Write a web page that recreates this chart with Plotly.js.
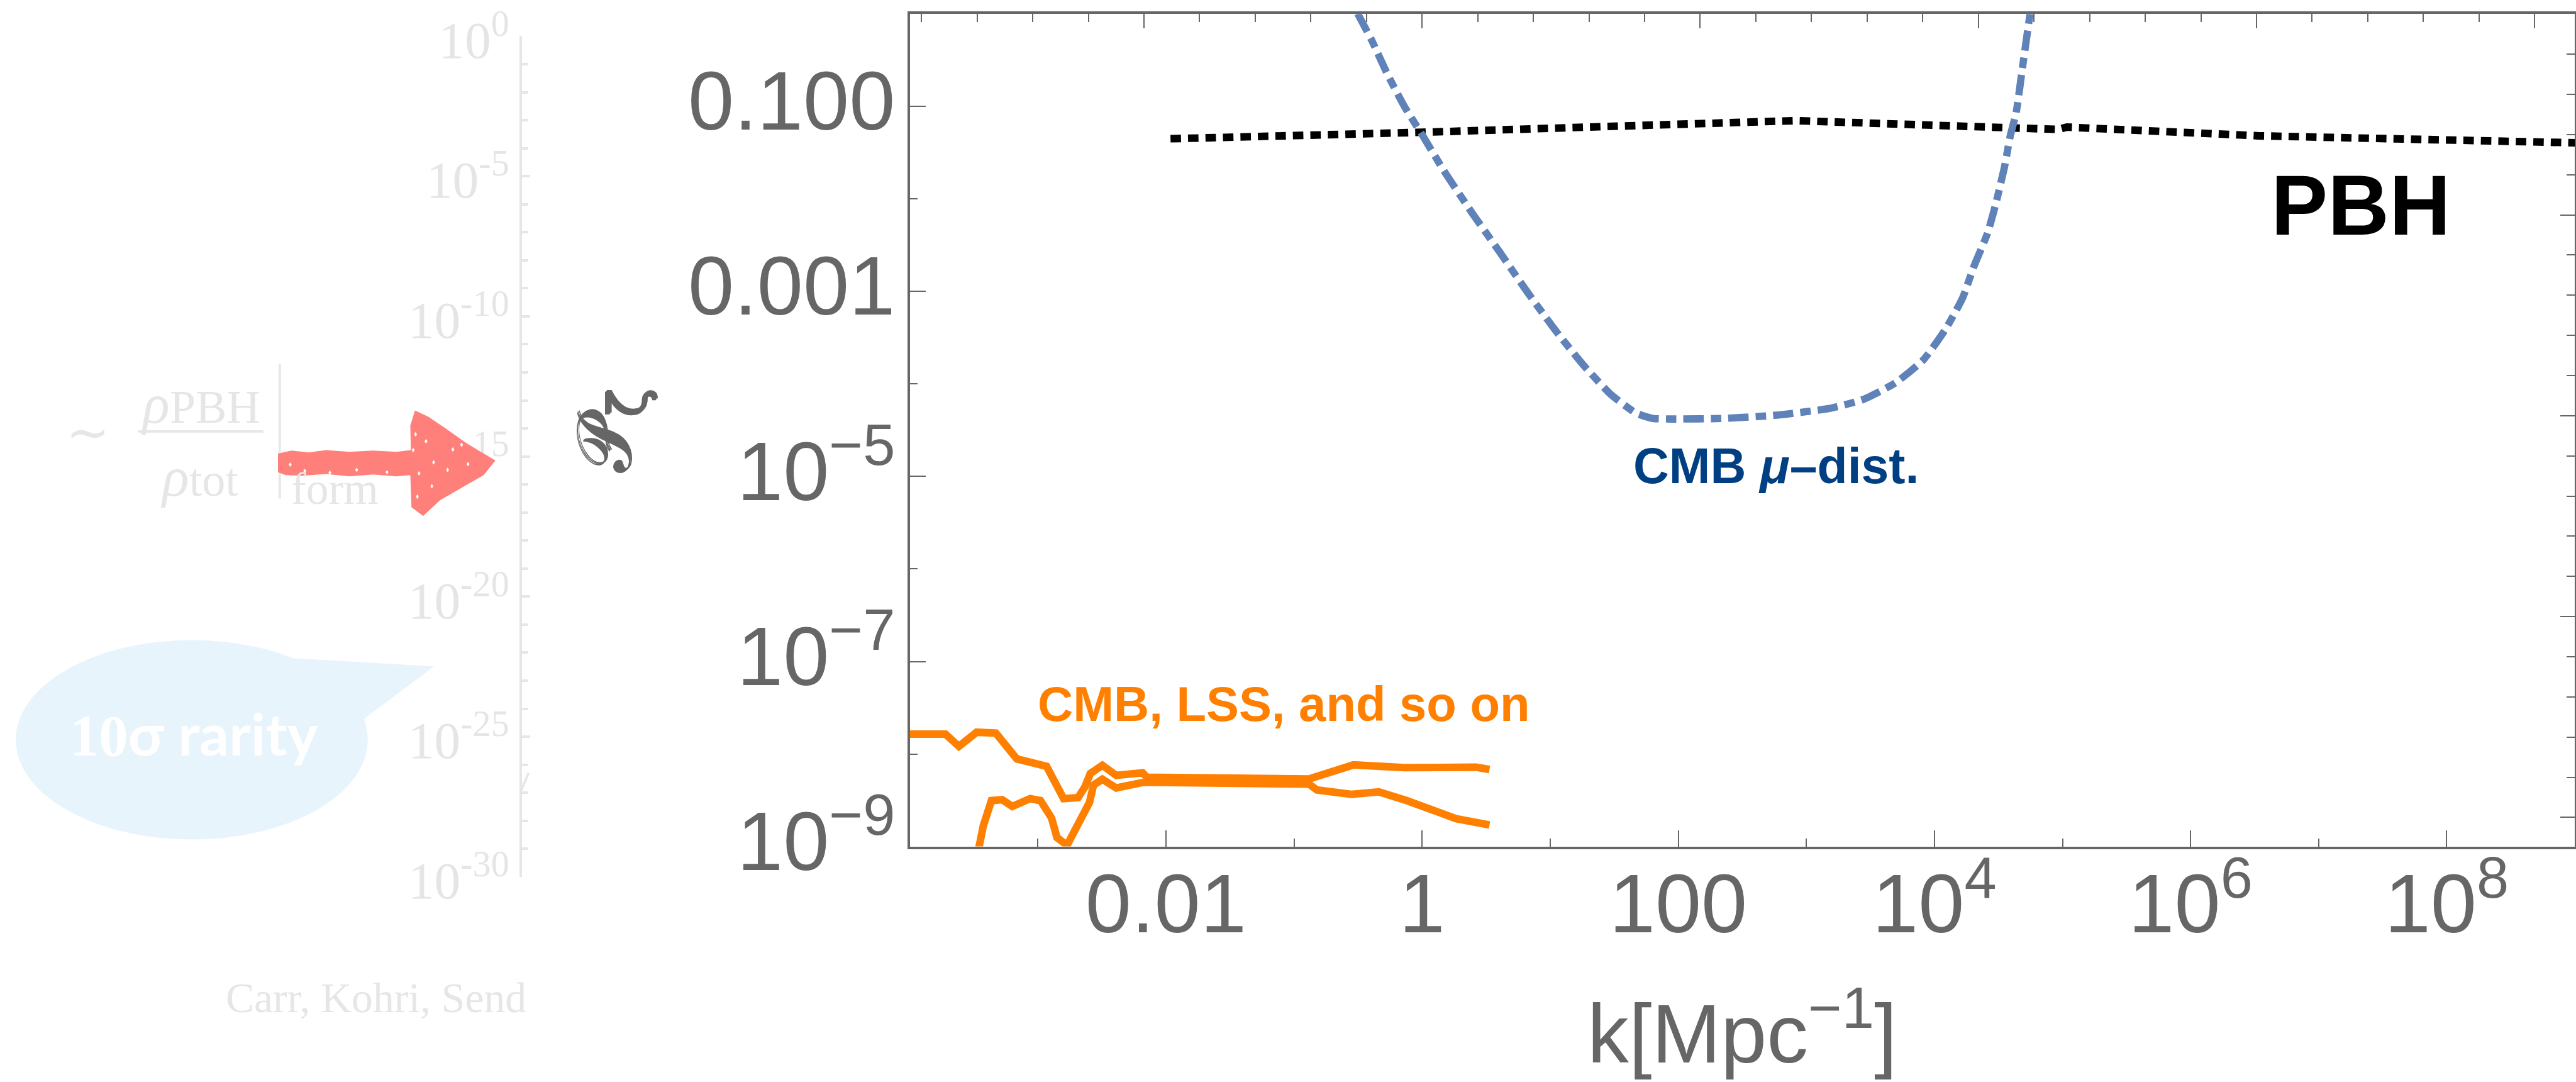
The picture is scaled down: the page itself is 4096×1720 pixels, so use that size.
<!DOCTYPE html>
<html>
<head>
<meta charset="utf-8">
<script src="https://cdn.plot.ly/plotly-3.0.1.min.js"></script>
<style>html,body{margin:0;padding:0;background:#fff}#chart{width:4096px;height:1720px}</style>
</head>
<body>
<div id="chart"></div>
<script>
// ---- data ----
const upperK = [1e-4,1.90e-4,2.42e-4,3.33e-4,4.70e-4,6.85e-4,1.17e-3,1.59e-3,2.06e-3,2.33e-3,2.57e-3,3.19e-3,4.09e-3,6.58e-3,7.11e-3,0.131,0.291,0.733,2.64,3.36];
const upperP = [1.64e-8,1.64e-8,1.21e-8,1.72e-8,1.68e-8,8.85e-9,7.36e-9,3.29e-9,3.37e-9,4.40e-9,6.17e-9,7.55e-9,5.87e-9,6.25e-9,5.60e-9,5.38e-9,7.62e-9,7.13e-9,7.19e-9,6.79e-9];
const lowerK = [3.47e-4,3.75e-4,4.34e-4,5.26e-4,6.32e-4,8.71e-4,1.05e-3,1.28e-3,1.41e-3,1.69e-3,2.53e-3,2.72e-3,3.19e-3,4.09e-3,6.73e-3,0.131,0.151,0.280,0.460,0.762,1.84,3.36];
const lowerP = [9.8e-10,1.67e-9,3.13e-9,3.21e-9,2.71e-9,3.29e-9,3.13e-9,2.03e-9,1.25e-9,1.03e-9,2.99e-9,4.61e-9,5.33e-9,4.29e-9,4.95e-9,4.72e-9,4.08e-9,3.66e-9,3.89e-9,3.13e-9,2.00e-9,1.71e-9];
const muK = [0.314,0.404,0.541,0.733,0.993,1.48,2.45,4.05,6.68,11.1,18.1,29.9,46.9,63.5,89.9,223,605,1490,2740,4970,8220,1.22e4,1.66e4,2.02e4,2.60e4,3.01e4,3.52e4,3.91e4,4.35e4,4.82e4,5.30e4,5.58e4];
const muP = [1.01,0.520,0.218,0.0982,0.0504,0.0202,7.10e-3,2.65e-3,9.72e-4,3.73e-4,1.61e-4,7.67e-5,4.83e-5,4.24e-5,4.18e-5,4.24e-5,4.62e-5,5.42e-5,6.75e-5,1.03e-4,1.83e-4,3.90e-4,8.53e-4,1.82e-3,4.28e-3,8.83e-3,0.0220,0.0482,0.0861,0.238,0.611,1.0];
const pbhK = [0.01086,0.993,820,8470,3.79e4,9.33e4,1.08e5,3.84e5,9.86e5,3.36e6,1e9];
const pbhP = [0.0448,0.0526,0.0703,0.0626,0.0582,0.0565,0.0599,0.0557,0.0526,0.0482,0.0405];

const xTickVals = [0.01,1,100,1e4,1e6,1e8];
const xTickText = ['0.01','1','100','10<sup>4</sup>','10<sup>6</sup>','10<sup>8</sup>'];
const xMinorVals = [1e-3,0.1,10,1e3,1e5,1e7];
const yTickVals = [0.1,0.001,1e-5,1e-7,1e-9];
const yTickText = ['0.100','0.001','10<sup>\u22125</sup>','10<sup>\u22127</sup>','10<sup>\u22129</sup>'];
const yMinorVals = [0.01,1e-4,1e-6,1e-8];
const fadedTickVals = [1,1e-5,1e-10,1e-15,1e-20,1e-25,1e-30];
const fadedTickText = ['10<sup>0</sup>','10<sup>-5</sup>','10<sup>-10</sup>','10<sup>-15</sup>','10<sup>-20</sup>','10<sup>-25</sup>','10<sup>-30</sup>'];
const fadedMinorVals = [1e-1,1e-2,1e-3,1e-4,1e-6,1e-7,1e-8,1e-9,1e-11,1e-12,1e-13,1e-14,1e-16,1e-17,1e-18,1e-19,1e-21,1e-22,1e-23,1e-24,1e-26,1e-27,1e-28,1e-29];

// ---- layout helpers: reference pixels -> paper fractions and scaled sizes ----
const W = 4420, H = 1856, S = 4096 / 4420;
const px = x => x / W, py = y => 1 - y / H, sz = v => v * S;
const path = pts => 'M' + pts.map(p => px(p[0]) + ',' + py(p[1])).join('L') + 'Z';
const GREY = '#666666', FADE = '#e6e6e6', SANS = '"Liberation Sans", Arial, sans-serif', SERIF = '"Liberation Serif", "Times New Roman", serif';

const traces = [
  {x: upperK, y: upperP, mode: 'lines', line: {color: '#ff8000', width: sz(13)}},
  {x: lowerK, y: lowerP, mode: 'lines', line: {color: '#ff8000', width: sz(13)}},
  {x: pbhK, y: pbhP, mode: 'lines', line: {color: '#000000', width: sz(13), dash: sz(18) + 'px,' + sz(12) + 'px'}},
  {x: muK, y: muP, mode: 'lines', line: {color: '#5f82b8', width: sz(12.5), shape: 'spline', smoothing: 0.5, dash: sz(35) + 'px,' + sz(12) + 'px,' + sz(18) + 'px,' + sz(12) + 'px'}},
  {x: [-4, 9], y: [-9, 0], xaxis: 'x2', yaxis: 'y2', mode: 'lines', line: {width: 0}, opacity: 0},
  {x: [1], y: [1], xaxis: 'x', yaxis: 'y3', mode: 'lines', line: {width: 0}, opacity: 0}
];

const shaft = [[477,778],[500,773],[530,776],[560,772],[600,775],[640,773],[680,775],[705,772]];
const head = [[704,730],[712,704],[735,715],[765,735],[800,760],[850,790],[830,815],[790,838],[755,858],[726,885],[706,870],[704,815]];
const shaftLow = [[680,817],[640,814],[600,817],[560,813],[520,816],[490,815],[477,810]];
const arrow = shaft.concat(head, shaftLow);
const specks = [[713,745],[731,757],[777,771],[744,793],[719,812],[768,806],[716,852],[741,834],[709,772],[803,796],[792,763],[523,808],[566,811],[612,806],[664,810],[498,797]];
const speck = c => path([[c[0]-2.5,c[1]],[c[0],c[1]-4],[c[0]+2.5,c[1]],[c[0],c[1]+4]]);

const bubbleTail = [[500,1129],[745,1143],[622,1235],[560,1200]];

const shapes = [
  {type: 'circle', xref: 'paper', yref: 'paper', x0: px(27), x1: px(631), y0: py(1098), y1: py(1440), fillcolor: '#e8f4fb', line: {width: 0}, layer: 'below'},
  {type: 'path', xref: 'paper', yref: 'paper', path: path(bubbleTail), fillcolor: '#e8f4fb', line: {width: 0}, layer: 'below'},
  {type: 'line', xref: 'paper', yref: 'paper', x0: px(237), x1: px(452), y0: py(740), y1: py(740), line: {color: FADE, width: sz(4)}, layer: 'below'},
  {type: 'line', xref: 'paper', yref: 'paper', x0: px(480), x1: px(480), y0: py(624), y1: py(855), line: {color: FADE, width: sz(4)}, layer: 'below'},
  {type: 'line', xref: 'paper', yref: 'paper', x0: px(893), x1: px(907), y0: py(1359), y1: py(1326), line: {color: FADE, width: sz(4)}, layer: 'below'},
  {type: 'path', xref: 'paper', yref: 'paper', path: path(arrow), fillcolor: '#ff807a', line: {width: 0}, layer: 'above'},
  {type: 'path', xref: 'paper', yref: 'paper', path: specks.map(speck).join(''), fillcolor: '#ffffff', line: {width: 0}, layer: 'above'}
];

const note = (text, x, y, size, color, family, xanchor, weight) => ({
  text, x: px(x), y: py(y), xref: 'paper', yref: 'paper', showarrow: false,
  xanchor: xanchor || 'left', yanchor: 'middle', font: {size: sz(size), color, family, weight: weight || 400}
});
const rho = '<i><span style="font-size:' + sz(96) + 'px">\u03c1</span></i>';

const annotations = [
  note('CMB, LSS, and so on', 1778, 1208, 84, '#ff8000', SANS, 'left', 700),
  note('CMB <i>\u03bc</i>\u2013dist.', 2800, 800, 85, '#003f82', SANS, 'left', 700),
  note('PBH', 3895, 352, 146, '#000000', SANS, 'left', 700),
  note('10<span style="font-family:Lato">\u03c3 rarity</span>', 333, 1258, 100, '#ffffff', SERIF, 'center', 700),
  note('\u223c', 151, 742, 90, FADE, SERIF, 'center'),
  note(rho + 'PBH', 344, 693, 80, FADE, SERIF, 'center'),
  note(rho + 'tot', 342, 818, 80, FADE, SERIF, 'center'),
  note('form', 498, 838, 77, FADE, SERIF, 'left'),
  note('Carr, Kohri, Send', 385, 1712, 73, FADE, SERIF, 'left')
];

const layout = {
  width: 4096, height: 1720,
  margin: {l: 0, r: 0, t: 0, b: 0, pad: 0},
  paper_bgcolor: '#ffffff', plot_bgcolor: 'rgba(0,0,0,0)',
  showlegend: false, hovermode: false,
  xaxis: {
    type: 'log', range: [-4, 9], domain: [px(1561), px(4418)], anchor: 'y',
    showgrid: false, zeroline: false, showline: true, linecolor: GREY, linewidth: sz(4),
    ticks: 'inside', ticklen: sz(28), tickwidth: 1.6, tickcolor: GREY,
    tickmode: 'array', tickvals: xTickVals, ticktext: xTickText,
    minor: {ticks: 'inside', tickmode: 'array', tickvals: xMinorVals, ticklen: sz(14), tickwidth: 1.6, tickcolor: GREY, showgrid: false},
    tickfont: {family: SANS, size: sz(142), color: GREY}, ticklabelstandoff: -25, tickangle: 0,
    title: {text: 'k[Mpc<sup>\u22121</sup>]', font: {family: SANS, size: sz(142), color: GREY}, standoff: sz(96)}
  },
  yaxis: {
    type: 'log', range: [-9, 0], domain: [py(1452), py(24)], anchor: 'x',
    showgrid: false, zeroline: false, showline: true, linecolor: GREY, linewidth: sz(4),
    ticks: 'inside', ticklen: sz(28), tickwidth: 1.6, tickcolor: GREY,
    tickmode: 'array', tickvals: yTickVals, ticktext: yTickText,
    minor: {ticks: 'inside', tickmode: 'array', tickvals: yMinorVals, ticklen: sz(14), tickwidth: 1.6, tickcolor: GREY, showgrid: false},
    tickfont: {family: SANS, size: sz(142), color: GREY}, ticklabelstandoff: -7, ticklabelshift: -9,
    title: {text: '\ud835\udcab<sub>\u03b6</sub>', font: {family: '"DejaVu Sans", "Noto Sans", serif', size: sz(130), color: GREY, shadow: '1.5px 1.5px 0 #666666, -1.5px -1.5px 0 #666666'}, standoff: sz(56)}
  },
  xaxis2: {
    overlaying: 'x', side: 'top', anchor: 'y2', domain: [px(1561), px(4418)], range: [-4, 9],
    showgrid: false, zeroline: false, showline: true, linecolor: GREY, linewidth: sz(4), showticklabels: false,
    ticks: 'inside', tick0: 0, dtick: 2.1715, ticklen: sz(25), tickwidth: 1.8, tickcolor: GREY,
    minor: {ticks: 'inside', tick0: 0, dtick: 0.4343, ticklen: sz(14), tickwidth: 1.8, tickcolor: GREY, showgrid: false}
  },
  yaxis2: {
    overlaying: 'y', side: 'right', anchor: 'x2', domain: [py(1452), py(24)], range: [-9, 0],
    showgrid: false, zeroline: false, showline: true, linecolor: GREY, linewidth: sz(4), showticklabels: false,
    ticks: 'inside', tick0: 0, dtick: 2.1715, ticklen: sz(25), tickwidth: 1.8, tickcolor: GREY,
    minor: {ticks: 'inside', tick0: 0, dtick: 0.4343, ticklen: sz(14), tickwidth: 1.8, tickcolor: GREY, showgrid: false}
  },
  yaxis3: {
    type: 'log', range: [-30, 0], domain: [py(1504), py(62)], anchor: 'free', position: px(894), side: 'left',
    showgrid: false, zeroline: false, showline: true, linecolor: FADE, linewidth: sz(4),
    ticks: 'inside', ticklen: sz(14), tickwidth: sz(4), tickcolor: FADE,
    tickmode: 'array', tickvals: fadedTickVals, ticktext: fadedTickText,
    minor: {ticks: 'inside', tickmode: 'array', tickvals: fadedMinorVals, ticklen: sz(10), tickwidth: sz(4), tickcolor: FADE, showgrid: false},
    tickfont: {family: SERIF, size: sz(90), color: '#e5e5e5'}, ticklabelstandoff: sz(66), ticklabelshift: 5, ticklabeloverflow: 'allow'
  },
  shapes, annotations
};

Plotly.newPlot('chart', traces, layout, {displayModeBar: false});
</script>
</body>
</html>
